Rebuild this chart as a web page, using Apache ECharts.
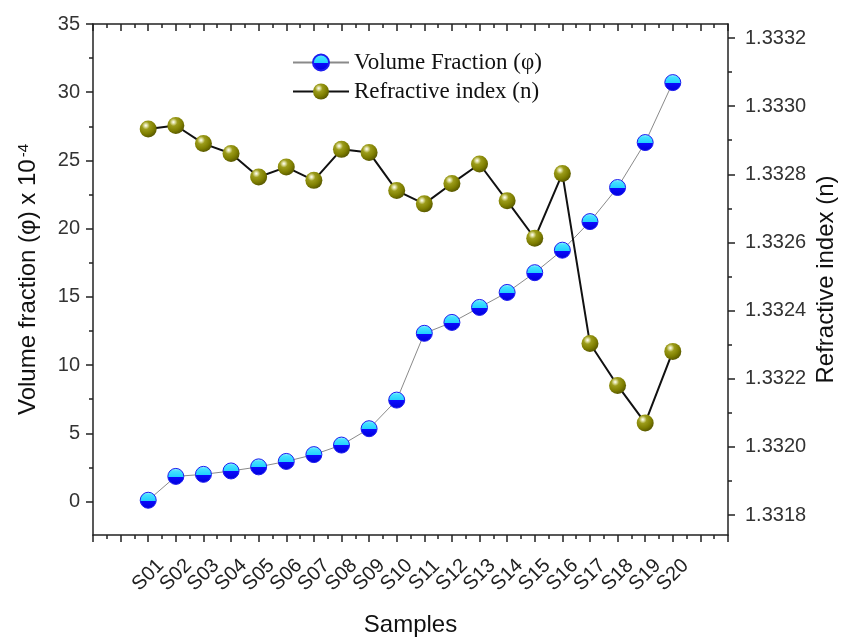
<!DOCTYPE html>
<html>
<head>
<meta charset="utf-8">
<script src="https://cdn.jsdelivr.net/npm/echarts@6/dist/echarts.min.js"></script>
<style>
  html, body { margin: 0; padding: 0; background: #fff; }
  #chart { width: 848px; height: 639px; }
</style>
</head>
<body>
<div id="chart"></div>
<script>
// sample names
const samples = ['S01', 'S02', 'S03', 'S04', 'S05', 'S06', 'S07', 'S08', 'S09', 'S10',
  'S11', 'S12', 'S13', 'S14', 'S15', 'S16', 'S17', 'S18', 'S19', 'S20']
// volume fraction (x 10^-4)
const volumeFraction = [0.05, 1.8, 1.95, 2.2, 2.5, 2.9, 3.4, 4.1, 5.3, 7.4,
  12.3, 13.1, 14.2, 15.3, 16.75, 18.4, 20.5, 23.0, 26.3, 30.7]
// refractive index (n)
const refractiveIndex = [1.332933, 1.332943, 1.332890, 1.332861, 1.332792, 1.332821, 1.332782, 1.332873, 1.332864, 1.332752,
  1.332713, 1.332773, 1.332830, 1.332722, 1.332612, 1.332802, 1.332303, 1.332180, 1.332070, 1.332280]

const sans = "'Liberation Sans', Arial, sans-serif"
const serif = "'Liberation Serif', 'Times New Roman', serif"
const frameColor = '#222'

const blueBall = {
  type: 'linear', x: 0, y: 0, x2: 0, y2: 1,
  colorStops: [
    { offset: 0, color: '#b8f4ff' },
    { offset: 0.18, color: '#45e2ff' },
    { offset: 0.52, color: '#22d0ff' },
    { offset: 0.52, color: '#0a0aff' },
    { offset: 1, color: '#0000d8' }
  ]
}
const oliveBall = {
  type: 'radial', x: 0.36, y: 0.3, r: 0.72,
  colorStops: [
    { offset: 0, color: '#ffffff' },
    { offset: 0.12, color: '#e2e2a8' },
    { offset: 0.32, color: '#9c9c1a' },
    { offset: 0.7, color: '#7e7e00' },
    { offset: 1, color: '#585800' }
  ]
}

const noSplit = { show: false }
const frameLine = { show: true, onZero: false, lineStyle: { color: frameColor, width: 1.5 } }

const option = {
  animation: false,
  backgroundColor: '#fff',
  grid: [
    // plotting frame
    { left: 93, right: 120, top: 24, bottom: 104, outerBoundsMode: 'none' },
    // left tick labels 0..35
    { left: 93, right: 120, top: 24, bottom: 137.5, outerBoundsMode: 'none' },
    // right tick labels 1.3318..1.3332
    { left: 93, right: 120, top: 38, bottom: 124, outerBoundsMode: 'none' }
  ],
  legend: {
    orient: 'vertical',
    left: 287,
    top: 46,
    itemWidth: 56,
    itemHeight: 20,
    itemGap: 6,
    textStyle: { fontFamily: serif, fontSize: 23, color: '#111' },
    data: ['Volume Fraction (φ)', 'Refractive index (n)']
  },
  xAxis: [
    {
      gridIndex: 0, type: 'value', position: 'bottom',
      min: -1, max: 22, interval: 1,
      name: 'Samples', nameLocation: 'middle', nameGap: 78,
      nameTextStyle: { fontFamily: sans, fontSize: 24, color: '#111' },
      axisLine: frameLine,
      axisTick: { show: true, length: 7, lineStyle: { color: frameColor, width: 1.5 } },
      minorTick: { show: true, splitNumber: 2, length: 4, lineStyle: { color: frameColor, width: 1.5 } },
      axisLabel: {
        rotate: 45, margin: 40, align: 'center', verticalAlign: 'middle',
        fontFamily: sans, fontSize: 20, color: '#222',
        formatter: v => (v >= 1 && v <= samples.length ? samples[v - 1] : '')
      },
      splitLine: noSplit
    },
    {
      gridIndex: 0, type: 'value', position: 'top',
      min: -1, max: 22, interval: 1,
      axisLine: frameLine,
      axisTick: { show: true, inside: true, length: 7, lineStyle: { color: frameColor, width: 1.5 } },
      minorTick: { show: true, splitNumber: 2, length: 4, lineStyle: { color: frameColor, width: 1.5 } },
      axisLabel: { show: false },
      splitLine: noSplit
    },
    { gridIndex: 1, type: 'value', show: false, min: 0, max: 1 },
    { gridIndex: 2, type: 'value', show: false, min: 0, max: 1 }
  ],
  yAxis: [
    {
      gridIndex: 0, type: 'value', position: 'left',
      min: -2.5, max: 35,
      name: '{t|Volume fraction (φ) x 10}{s|-4}',
      nameLocation: 'middle', nameGap: 53, nameRotate: 90,
      nameTextStyle: {
        rich: {
          t: { fontFamily: sans, fontSize: 24, color: '#111' },
          s: { fontFamily: sans, fontSize: 15, color: '#111', verticalAlign: 'top', padding: [0, 0, 0, 2] }
        }
      },
      axisLine: frameLine,
      axisTick: { show: false },
      axisLabel: { show: false },
      splitLine: noSplit
    },
    {
      gridIndex: 0, type: 'value', position: 'right',
      min: 1.331741, max: 1.333241,
      name: 'Refractive index (n)',
      nameLocation: 'middle', nameGap: 86, nameRotate: 90,
      nameTextStyle: { fontFamily: sans, fontSize: 24, color: '#111' },
      axisLine: frameLine,
      axisTick: { show: false },
      axisLabel: { show: false },
      splitLine: noSplit
    },
    {
      gridIndex: 1, type: 'value', position: 'left',
      min: 0, max: 35, interval: 5,
      axisLine: { show: false, onZero: false },
      axisTick: { show: true, length: 7, lineStyle: { color: frameColor, width: 1.5 } },
      minorTick: { show: true, splitNumber: 2, length: 4, lineStyle: { color: frameColor, width: 1.5 } },
      axisLabel: { margin: 13, fontFamily: sans, fontSize: 20, color: '#333' },
      splitLine: noSplit
    },
    {
      gridIndex: 2, type: 'value', position: 'right',
      min: 1.3318, max: 1.3332, interval: 0.0002,
      axisLine: { show: false, onZero: false },
      axisTick: { show: true, length: 7, lineStyle: { color: frameColor, width: 1.5 } },
      minorTick: { show: true, splitNumber: 2, length: 4, lineStyle: { color: frameColor, width: 1.5 } },
      axisLabel: { margin: 17, fontFamily: sans, fontSize: 20, color: '#333', formatter: v => v.toFixed(4) },
      splitLine: noSplit
    }
  ],
  series: [
    {
      name: 'Volume Fraction (φ)',
      type: 'line',
      xAxisIndex: 0, yAxisIndex: 0,
      data: volumeFraction.map((v, i) => [i + 1, v]),
      symbol: 'circle', symbolSize: 16,
      lineStyle: { color: '#8a8a8a', width: 1 },
      itemStyle: { color: blueBall, borderColor: '#1c1cf0', borderWidth: 1 },
      z: 2
    },
    {
      name: 'Refractive index (n)',
      type: 'line',
      xAxisIndex: 0, yAxisIndex: 1,
      data: refractiveIndex.map((v, i) => [i + 1, v]),
      symbol: 'circle', symbolSize: 17,
      lineStyle: { color: '#111', width: 2 },
      itemStyle: { color: oliveBall, borderWidth: 0 },
      z: 3
    }
  ]
}

const myChart = echarts.init(document.getElementById('chart'))
myChart.setOption(option)
</script>
</body>
</html>
